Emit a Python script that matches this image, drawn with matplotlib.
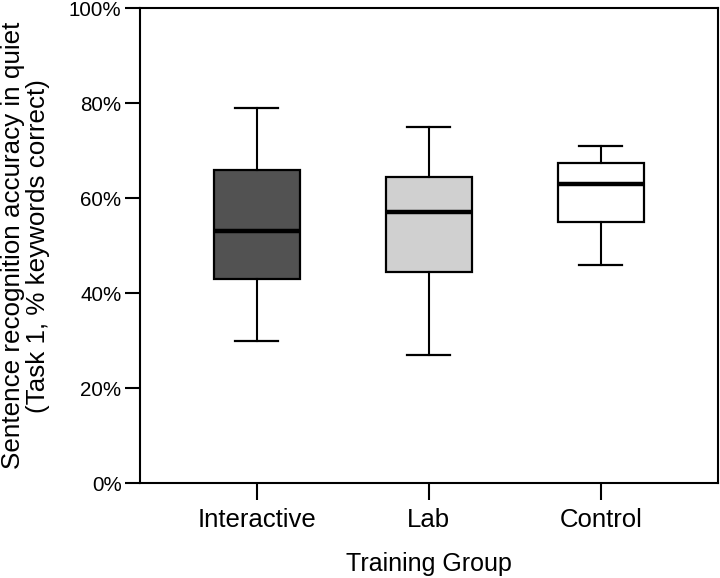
import matplotlib
matplotlib.use("Agg")
import matplotlib.pyplot as plt
from matplotlib.ticker import FuncFormatter

plt.rcParams['font.family'] = ['Liberation Sans', 'DejaVu Sans']

groups = ["Interactive", "Lab", "Control"]
whisker_low = [30, 27, 46]
q1 = [43, 44.4, 55]
median = [53, 57, 63]
q3 = [66, 64.5, 67.4]
whisker_high = [79, 75, 71]
fills = ["#525252", "#d0d0d0", "#ffffff"]

stats = []
for i, g in enumerate(groups):
    stats.append(dict(label=g, whislo=whisker_low[i], q1=q1[i], med=median[i],
                      q3=q3[i], whishi=whisker_high[i], fliers=[]))

fig = plt.figure(figsize=(7.2, 5.78), dpi=100)
ax = fig.add_axes([0.194, 0.164, 0.803, 0.822])

bp = ax.bxp(stats, positions=[1, 2, 3], widths=0.5, patch_artist=True,
            showfliers=False,
            boxprops=dict(edgecolor='black', linewidth=1.6),
            medianprops=dict(color='black', linewidth=3.2),
            whiskerprops=dict(color='black', linewidth=1.5),
            capprops=dict(color='black', linewidth=1.6),
            capwidths=0.25)
for patch, c in zip(bp['boxes'], fills):
    patch.set_facecolor(c)

ax.set_xlim(0.32, 3.68)
ax.set_ylim(0, 100)
ax.set_yticks([0, 20, 40, 60, 80, 100])
ax.yaxis.set_major_formatter(FuncFormatter(lambda v, p: f"{int(v)}%"))
ax.set_xticks([1, 2, 3])
ax.set_xticklabels(groups, fontsize=18.5)
ax.tick_params(axis='y', labelsize=14.8, length=11, width=1.5, direction='out', pad=2)
ax.tick_params(axis='x', length=12, width=1.5, direction='out', pad=6)
for s in ax.spines.values():
    s.set_linewidth(1.5)

ax.set_xlabel("Training Group", fontsize=18, labelpad=14)
ax.set_ylabel("Sentence recognition accuracy in quiet\n(Task 1, % keywords correct)",
              fontsize=18.7, labelpad=14, linespacing=1.05)

fig.savefig("out.png", dpi=100)
